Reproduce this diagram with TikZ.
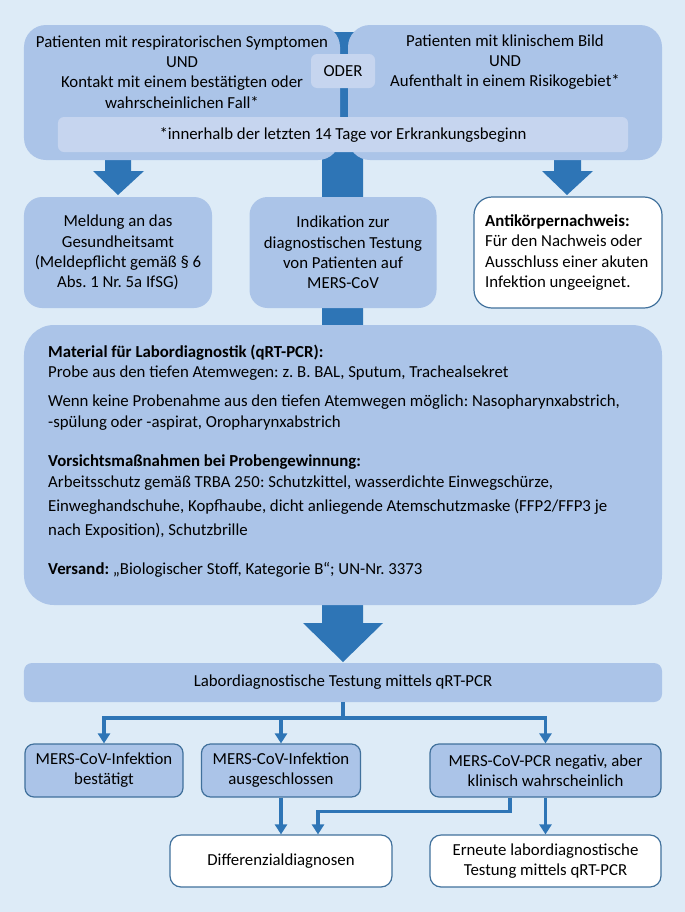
\documentclass[tikz,border=0pt]{standalone}
\usepackage{fontspec}
\setmainfont{Carlito}
\usetikzlibrary{arrows.meta}
\definecolor{bg}{HTML}{DDEBF7}
\definecolor{boxblue}{HTML}{ABC4E8}
\definecolor{lightblue}{HTML}{C6D5EF}
\definecolor{darkblue}{HTML}{2E75B6}
\definecolor{edge}{HTML}{41719C}
\tikzset{
  bluebox/.style={fill=boxblue, draw=none, inner sep=0pt, align=center},
  lightbox/.style={fill=lightblue, draw=none, inner sep=0pt, align=center, rounded corners=6bp},
  edgebox/.style={fill=boxblue, draw=edge, line width=1.2bp, inner sep=0pt, align=center, rounded corners=9bp},
  whitebox/.style={fill=white, draw=edge, line width=1.2bp, inner sep=0pt, align=center, rounded corners=11bp},
  txt/.style={inner sep=0pt, align=center},
  bline/.style={anchor=west, inner sep=0pt, text height=12.5bp, text depth=4.5bp},
  connline/.style={draw=darkblue, line width=3.6bp},
  arr/.style={connline, -{Triangle[width=12bp,length=10bp]}},
  blockarrow/.style={fill=darkblue, draw=none}
}
\begin{document}
\frenchspacing
\begin{tikzpicture}[x=1bp, y=-1bp, font=\fontsize{16.8bp}{20.2bp}\selectfont]
\fill[bg] (0,0) rectangle (685,912);
\useasboundingbox (0,0) rectangle (685,912);

% long central bar with big arrow head
\fill[blockarrow] (322,32) -- (322,623) -- (303,623) -- (343,662) -- (383,623) -- (363,623) -- (363,32) -- cycle;
% side block arrows
\fill[blockarrow] (105,150) -- (105,171) -- (93,171) -- (118,195) -- (144,171) -- (131,171) -- (131,150) -- cycle;
\fill[blockarrow] (554,150) -- (554,171) -- (542,171) -- (567,195) -- (593,171) -- (581,171) -- (581,150) -- cycle;

% top boxes
\node[bluebox, rounded corners=22bp, minimum width=316bp, minimum height=135bp] (topL) at (182,92.5) {};
\node[bluebox, rounded corners=22bp, minimum width=314bp, minimum height=135bp] (topR) at (505,92.5) {};
\node[txt] (topLt) at (182,72) {Patienten mit respiratorischen Symptomen\\UND\\Kontakt mit einem bestätigten oder\\wahrscheinlichen Fall*};
\node[txt] (topRt) at (505,62) {Patienten mit klinischem Bild\\UND\\Aufenthalt in einem Risikogebiet*};
\node[lightbox, minimum width=64bp, minimum height=34bp] (oder) at (343,71) {ODER};
\node[lightbox, minimum width=570bp, minimum height=35bp] (foot) at (343,134.5) {*innerhalb der letzten 14 Tage vor Erkrankungsbeginn};

% second row
\node[bluebox, rounded corners=18bp, minimum width=188bp, minimum height=111bp] (meld) at (118,252.5) {Meldung an das\\Gesundheitsamt\\(Meldepflicht gemäß § 6\\Abs. 1 Nr. 5a IfSG)};
\node[bluebox, rounded corners=18bp, minimum width=187bp, minimum height=111bp] (indi) at (343,252.5) {Indikation zur\\diagnostischen Testung\\von Patienten auf\\MERS-CoV};
\node[whitebox, rounded corners=18bp, minimum width=188bp, minimum height=111bp] (anti) at (568,252.5) {};
\node[txt, anchor=west, align=left] (antit) at (485,252.5) {\textbf{Antikörpernachweis:}\\Für den Nachweis oder\\Ausschluss einer akuten\\Infektion ungeeignet.};

% big material box
\node[bluebox, rounded corners=30bp, minimum width=638bp, minimum height=280bp] (mat) at (343,465) {};
\node[bline] (m1) at (48,353) {\textbf{Material für Labordiagnostik (qRT-PCR):}};
\node[bline] (m2) at (48,373) {Probe aus den tiefen Atemwegen: z. B. BAL, Sputum, Trachealsekret};
\node[bline] (m3) at (48,402) {Wenn keine Probenahme aus den tiefen Atemwegen möglich: Nasopharynxabstrich,};
\node[bline] (m4) at (48,423) {-spülung oder -aspirat, Oropharynxabstrich};
\node[bline] (m5) at (48,462) {\textbf{Vorsichtsmaßnahmen bei Probengewinnung:}};
\node[bline] (m6) at (48,483) {Arbeitsschutz gemäß TRBA 250: Schutzkittel, wasserdichte Einwegschürze,};
\node[bline] (m7) at (48,507) {Einweghandschuhe, Kopfhaube, dicht anliegende Atemschutzmaske (FFP2/FFP3 je};
\node[bline] (m8) at (48,531) {nach Exposition), Schutzbrille};
\node[bline] (m9) at (48,570) {\textbf{Versand:} „Biologischer Stoff, Kategorie B“; UN-Nr. 3373};

% lab bar
\node[bluebox, rounded corners=8bp, minimum width=638bp, minimum height=39bp] (lab) at (343,682.5) {Labordiagnostische Testung mittels qRT-PCR};

% result boxes
\node[edgebox, minimum width=158bp, minimum height=53bp] (resA) at (104,770.5) {MERS-CoV-Infektion\\bestätigt};
\node[edgebox, minimum width=159bp, minimum height=53bp] (resB) at (281,770.5) {MERS-CoV-Infektion\\ausgeschlossen};
\node[edgebox, minimum width=231bp, minimum height=53bp] (resC) at (545.5,770.5) {MERS-CoV-PCR negativ, aber\\klinisch wahrscheinlich};

% final boxes
\node[whitebox, minimum width=222bp, minimum height=52bp] (diff) at (281,861) {Differenzialdiagnosen};
\node[whitebox, minimum width=231bp, minimum height=52bp] (ern) at (545.5,861) {Erneute labordiagnostische\\Testung mittels qRT-PCR};

% connectors
\coordinate (j) at ([yshift=-16bp]lab.south);
\draw[connline] (lab.south) -- (j);
\draw[arr] (j) -| (resA.north);
\draw[arr] (j) -| (resB.north);
\draw[arr] (j) -| (resC.north);
\draw[arr] (resB.south) -- (diff.north);
\draw[arr] ([xshift=-35.5bp]resC.south) -- ++(0,14) -| ([xshift=37bp]diff.north);
\draw[arr] (resC.south) -- (ern.north);
\end{tikzpicture}
\end{document}
